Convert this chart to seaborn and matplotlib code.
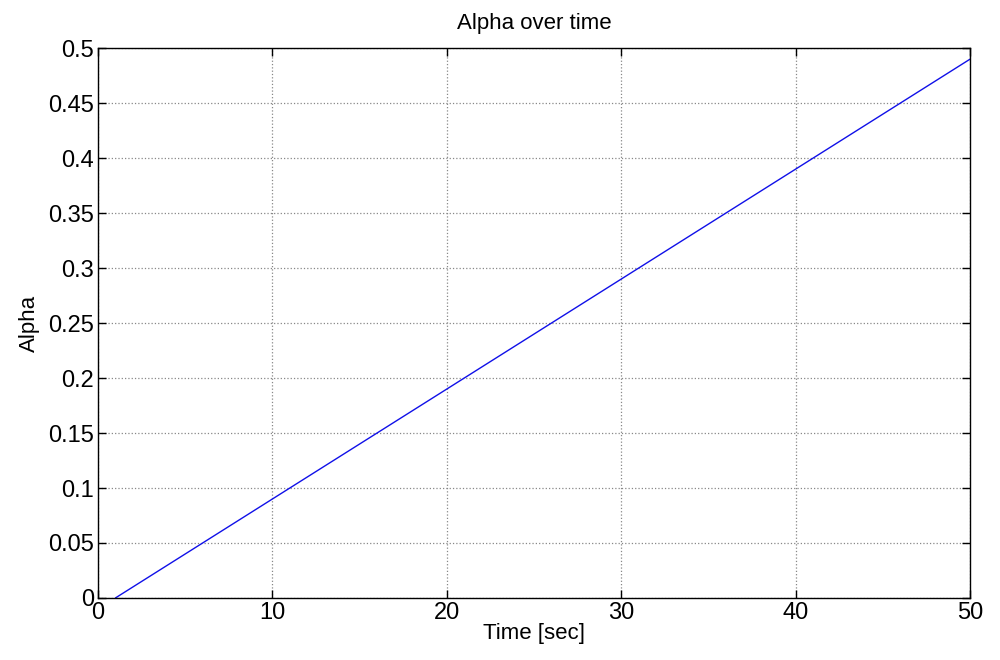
import numpy as np
import pandas as pd
import seaborn as sns
import matplotlib.pyplot as plt

# values
time_sec = [1, 10, 20, 30, 40, 50]
alpha = [0.0, 0.09, 0.19, 0.29, 0.39, 0.49]
x_ticks = [0, 10, 20, 30, 40, 50]
y_ticks = [0, 0.05, 0.1, 0.15, 0.2, 0.25, 0.3, 0.35, 0.4, 0.45, 0.5]
y_labels = ["0", "0.05", "0.1", "0.15", "0.2", "0.25", "0.3", "0.35", "0.4", "0.45", "0.5"]

df = pd.DataFrame({"Time": time_sec, "Alpha": alpha})

sns.set_style("ticks")
plt.rcParams['font.family'] = ['Liberation Sans', 'DejaVu Sans']
plt.rcParams['text.color'] = 'black'
plt.rcParams['axes.labelcolor'] = 'black'

fig = plt.figure(figsize=(10, 6.6), dpi=100)
ax = fig.add_axes([0.098, 0.094, 0.872, 0.833])
sns.lineplot(data=df, x="Time", y="Alpha", color="#1010e8", linewidth=1.0, ax=ax)

ax.set_xlim(0, 50)
ax.set_ylim(0, 0.5)
ax.set_xticks(x_ticks)
ax.set_yticks(y_ticks)
ax.set_yticklabels(y_labels)
ax.tick_params(direction="in", top=True, right=True, labelsize=17, length=6, width=1,
               colors="black", pad=3)
ax.grid(True, linestyle=":", color="#888888", linewidth=0.9)
for s in ax.spines.values():
    s.set_visible(True)
    s.set_color("black")
    s.set_linewidth(1.0)

ax.set_title("Alpha over time", fontsize=16, pad=14, color="black")
ax.set_xlabel("Time [sec]", fontsize=16, labelpad=-1)
ax.set_ylabel("Alpha", fontsize=16, labelpad=6)

plt.savefig("out.png", dpi=100)
